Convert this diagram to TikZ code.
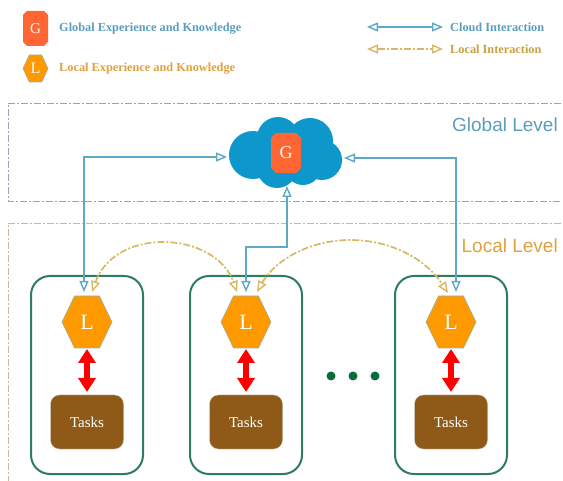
\documentclass[tikz,border=0pt]{standalone}
\usepackage{fontspec}
\setmainfont{Liberation Serif}
\setsansfont{Liberation Sans}
\usetikzlibrary{arrows.meta,calc}
\definecolor{cblue}{HTML}{5FA8C6}
\definecolor{ctan}{HTML}{D9B765}
\definecolor{cgreen}{HTML}{2E7D5B}
\definecolor{corange}{HTML}{FF9900}
\definecolor{cred}{HTML}{FF6633}
\definecolor{cbrown}{HTML}{8F5A17}
\definecolor{ccloud}{HTML}{0E97CB}
\definecolor{cdash}{HTML}{9AA3B5}
\definecolor{cdashb}{HTML}{D0B596}
\definecolor{tglobal}{HTML}{5B9DBE}
\definecolor{tlocal}{HTML}{E0A040}
\definecolor{tlocalb}{HTML}{C9A040}
\definecolor{cdot}{HTML}{0B6B3A}
\newcommand{\hexshape}[4]{% cx cy halfwidth halfheight
 \fill[corange,draw=cgreen!45!gray!60,line width=.6pt]
  ({#1-#3},#2) -- ({#1-#3/2},{#2-#4}) -- ({#1+#3/2},{#2-#4}) -- ({#1+#3},#2) -- ({#1+#3/2},{#2+#4}) -- ({#1-#3/2},{#2+#4}) -- cycle;}
\newcommand{\octshape}[5]{% cx cy halfwidth halfheight chamfer
 \fill[cred] ({#1-#3+#5},{#2-#4}) -- ({#1+#3-#5},{#2-#4}) -- ({#1+#3},{#2-#4+#5}) -- ({#1+#3},{#2+#4-#5}) -- ({#1+#3-#5},{#2+#4}) -- ({#1-#3+#5},{#2+#4}) -- ({#1-#3},{#2+#4-#5}) -- ({#1-#3},{#2-#4+#5}) -- cycle;}
\tikzset{
 x=1pt,y=-1pt,
 markertext/.style={text=white,inner sep=0pt,font=\fontsize{#1}{#1}\selectfont},
 taskbox/.style={rounded corners=9pt,fill=cbrown,draw=gray!50,line width=.4pt,minimum width=73pt,minimum height=54pt,text=white,font=\fontsize{15}{15}\selectfont},
 agentbox/.style={rounded corners=19pt,draw=cgreen,line width=2pt,minimum width=112pt,minimum height=198pt},
 cloudlink/.style={draw=cblue,line width=2pt,{Triangle[open,fill=white,length=11pt,width=9pt,line width=1.4pt]}-{Triangle[open,fill=white,length=11pt,width=9pt,line width=1.4pt]}},
 locallink/.style={draw=ctan,line width=1.7pt,dash pattern=on 7pt off 2pt on 2pt off 2pt,{Triangle[open,fill=white,length=11pt,width=9pt,line width=1.4pt]}-{Triangle[open,fill=white,length=11pt,width=9pt,line width=1.4pt]}},
 tasklink/.style={draw=red,line width=6.5pt,{Triangle[length=14pt,width=17pt]}-{Triangle[length=14pt,width=17pt]}},
 levelframe/.style={dash pattern=on 7pt off 2pt on 2pt off 2pt,line width=.9pt},
 legendtext/.style={anchor=west,font=\bfseries\fontsize{12.3}{12.3}\selectfont,inner sep=0pt},
 leveltext/.style={anchor=east,inner sep=0pt,font=\sffamily\fontsize{19}{19}\selectfont},
 dotn/.style={circle,fill=cdot,minimum size=9pt,inner sep=0pt}
}
\begin{document}
\begin{tikzpicture}
\useasboundingbox (0,0) rectangle (563,481);
% level frames
\draw[levelframe,draw=cdash] (561,103) -- (8,103) -- (8,201) -- (561,201);
\draw[levelframe,draw=cdashb] (561,223) -- (8,223) -- (8,481);
\node[leveltext,text=tglobal] (gl) at (558,125) {Global Level};
\node[leveltext,text=tlocal] (ll) at (558,246) {Local Level};
% cloud
\fill[ccloud] (253,155) circle (24) (278,138) circle (21) (310,141) circle (23) (322,160) circle (20)
 (277,168) circle (20) (303,167) circle (18) (285,155) ellipse (48 and 26);
\octshape{286}{153}{15}{20}{5}
\node[markertext=18] (G) at (286,153) {G};
\coordinate (cl) at (227,157);
\coordinate (cr) at (344,158);
\coordinate (cb) at (287,186);
% agents
\foreach \n/\cx in {a/87,b/246,c/451}{
 \node[agentbox] (box\n) at (\cx,375) {};
 \hexshape{\cx}{322}{25}{26}
 \node[markertext=22] (L\n) at (\cx,322) {L};
 \node[taskbox] (T\n) at (\cx,422) {Tasks};
 \coordinate (up\n) at (\cx,349);
 \coordinate (dn\n) at (\cx,392);
 \draw[tasklink] (up\n) -- (dn\n);
}
\coordinate (ac) at (84,292);
\coordinate (bc) at (246,292);
\coordinate (cc) at (456,292);
\coordinate (ar) at (92,292);
\coordinate (bl) at (237,292);
\coordinate (br) at (257,292);
\coordinate (cl2) at (448,293);
\coordinate (bend) at (246,247);
% interactions
\draw[cloudlink] (ac) |- (cl);
\draw[cloudlink] (bc) -- (bend) -| (cb);
\draw[cloudlink] (cc) |- (cr);
\draw[locallink] (ar) .. controls (104,258) and (130,242) .. (163,242) .. controls (196,242) and (225,258) .. (bl);
\draw[locallink] (br) .. controls (275,260) and (310,240) .. (350,240) .. controls (390,240) and (425,258) .. (cl2);
% dots
\node[dotn] (d1) at (331,376) {};
\node[dotn] (d2) at (353,376) {};
\node[dotn] (d3) at (375,376) {};
% legend
\octshape{35.5}{28.5}{12.5}{17.5}{4}
\node[markertext=15] (lg) at (35.5,28.5) {G};
\hexshape{35.5}{68.5}{12.5}{13.5}
\node[markertext=16] (lL) at (35.5,68.5) {L};
\node[legendtext,text=tglobal] (t1) at (59,29) {Global Experience and Knowledge};
\node[legendtext,text=tlocal] (t2) at (59,69) {Local Experience and Knowledge};
\coordinate (k1a) at (367,27);
\coordinate (k1b) at (443,27);
\coordinate (k2a) at (367,49);
\coordinate (k2b) at (443,49);
\draw[cloudlink] (k1a) -- (k1b);
\draw[locallink] (k2a) -- (k2b);
\node[legendtext,text=tglobal] (t3) at (450,27) {Cloud Interaction};
\node[legendtext,text=tlocalb] (t4) at (450,49) {Local Interaction};
\end{tikzpicture}
\end{document}
